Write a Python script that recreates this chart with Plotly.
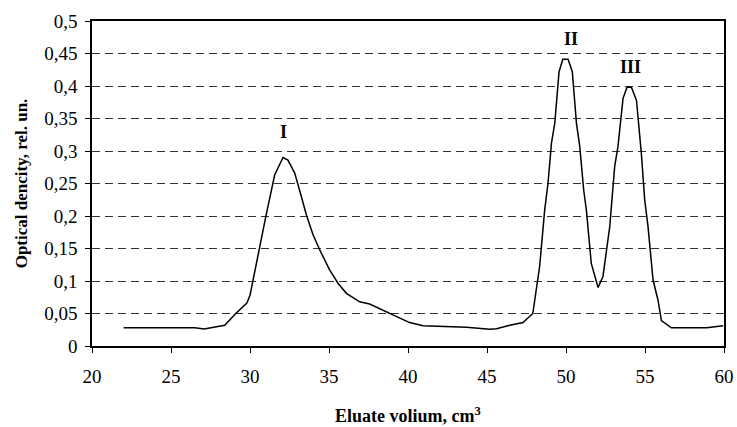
import plotly.graph_objects as go

volume = [22.0, 26.5, 27.1, 28.4, 29.1, 29.8, 30.0, 30.4, 30.7, 31.0, 31.56, 32.09, 32.4, 32.83,
          33.25, 33.57, 33.99, 34.41, 35.04, 35.57, 36.1, 36.94, 37.57, 38.42, 39.27, 40.1,
          40.95, 42.6, 43.7, 45.17, 45.6, 46.44, 47.28, 47.9, 48.33, 48.65, 48.86, 49.08,
          49.29, 49.56, 49.8, 50.13, 50.4, 50.66, 50.87, 51.12, 51.29, 51.6, 51.82, 52.03,
          52.34, 52.56, 52.77, 53.08, 53.29, 53.61, 53.86, 54.14, 54.46, 54.77, 54.98, 55.19,
          55.51, 55.82, 56.04, 56.67, 58.9, 59.95]
density = [0.028, 0.028, 0.026, 0.032, 0.05, 0.066, 0.078, 0.127, 0.163, 0.199, 0.263, 0.290,
           0.286, 0.266, 0.230, 0.2015, 0.171, 0.148, 0.117, 0.0965, 0.081, 0.068, 0.0646,
           0.055, 0.045, 0.036, 0.031, 0.030, 0.0288, 0.0257, 0.0266, 0.032, 0.036, 0.050,
           0.122, 0.209, 0.25, 0.312, 0.343, 0.422, 0.441, 0.441, 0.422, 0.343, 0.307, 0.24,
           0.209, 0.127, 0.107, 0.090, 0.107, 0.143, 0.184, 0.276, 0.307, 0.381, 0.398, 0.398,
           0.378, 0.296, 0.225, 0.184, 0.1015, 0.0708, 0.039, 0.028, 0.028, 0.031]

peak_labels = ["I", "II", "III"]
peak_x = [32.15, 50.34, 54.08]
peak_y = [0.329, 0.473, 0.43]

font_family = "Liberation Serif, Times New Roman, serif"

fig = go.Figure()
fig.add_trace(go.Scatter(x=volume, y=density, mode="lines",
                         line=dict(color="black", width=1.5), showlegend=False,
                         hoverinfo="skip"))

for lab, px, py in zip(peak_labels, peak_x, peak_y):
    fig.add_annotation(x=px, y=py, text="<b>" + lab + "</b>", showarrow=False,
                       font=dict(family=font_family, size=18, color="black"),
                       bgcolor="white", borderpad=2)

fig.update_layout(
    width=737, height=427,
    margin=dict(l=92, r=13, t=21, b=81),
    paper_bgcolor="white", plot_bgcolor="white",
    separators=", ",
    font=dict(family=font_family, size=18, color="black"),
    xaxis=dict(range=[20, 60], tick0=20, dtick=5, showgrid=False, zeroline=False,
               showline=True, linecolor="black", linewidth=1.5, mirror=True,
               ticks="outside", ticklen=5, tickcolor="black", automargin=False,
               tickfont=dict(size=19), ticklabelstandoff=7,
               title=dict(text="<b>Eluate volium, cm<sup>3</sup></b>",
                          font=dict(family=font_family, size=18), standoff=24)),
    yaxis=dict(range=[0, 0.5], tick0=0, dtick=0.05, showgrid=True, gridcolor="#333333",
               griddash="8px,5px", gridwidth=1, zeroline=False,
               showline=True, linecolor="black", linewidth=1.5, mirror=True,
               ticks="outside", ticklen=5, tickcolor="black", automargin=False,
               tickfont=dict(size=19), ticklabelstandoff=4,
               title=dict(text="<b>Optical dencity, rel. un.</b>",
                          font=dict(family=font_family, size=17), standoff=12)),
)

fig.write_html("out.html", config={"displayModeBar": False},
               post_script="document.body.style.margin='0';document.body.style.overflow='hidden';")
